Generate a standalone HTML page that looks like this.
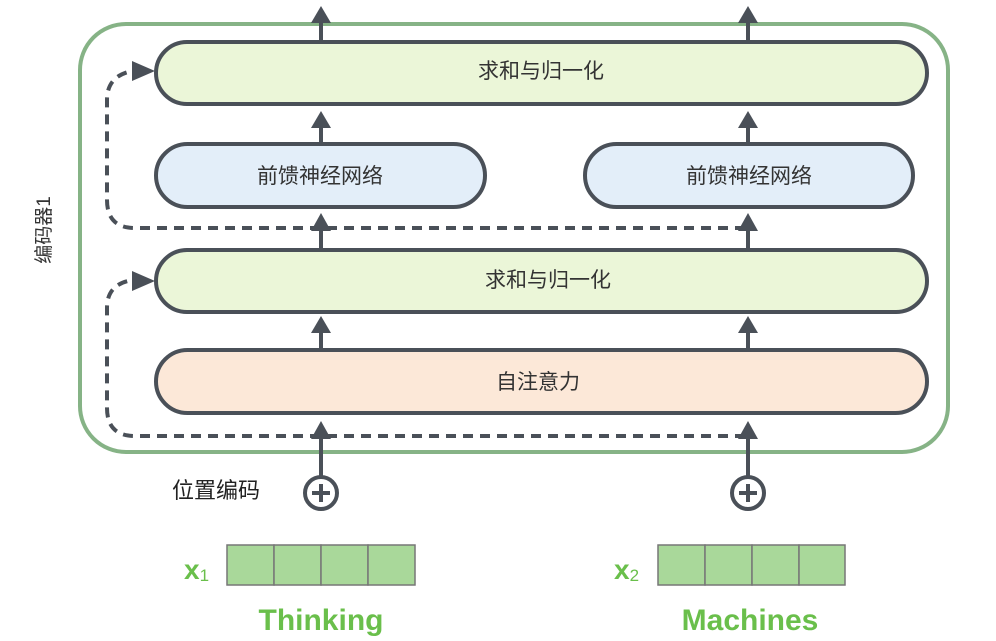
<!DOCTYPE html>
<html><head><meta charset="utf-8"><style>
html,body{margin:0;padding:0;background:#fff;}
svg{display:block;}
text{font-family:"Liberation Sans","Noto Sans CJK SC",sans-serif;}
</style></head><body>
<svg width="996" height="641" viewBox="0 0 996 641" xmlns="http://www.w3.org/2000/svg">
<defs>
<marker id="ah" markerWidth="6" markerHeight="6" refX="3" refY="3" orient="auto" markerUnits="userSpaceOnUse"></marker>
</defs>
<!-- outer encoder box -->
<rect x="80" y="24" width="868" height="428" rx="46" ry="46" fill="none" stroke="#86b386" stroke-width="4"/>
<text x="0" y="0" transform="translate(50,230) rotate(-90)" font-size="19" fill="#333" text-anchor="middle">编码器1</text>

<!-- dashed residuals -->
<g fill="none" stroke="#4a5058" stroke-width="4" stroke-dasharray="10,7">
<path d="M745 228 H135 Q107 228 107 200 V100 Q107 78 128 72"/>
<path d="M745 436 H135 Q107 436 107 408 V308 Q107 286 128 281"/>
</g>
<g fill="#4a5058">
<polygon points="155,71 132,61 132,81"/>
<polygon points="155,281 132,271 132,291"/>
</g>

<!-- boxes -->
<g stroke="#4a5058" stroke-width="4">
<rect x="156" y="42" width="771" height="62" rx="31" fill="#ebf6d8"/>
<rect x="156" y="144" width="329" height="63" rx="31.5" fill="#e3eef9"/>
<rect x="585" y="144" width="328" height="63" rx="31.5" fill="#e3eef9"/>
<rect x="156" y="250" width="771" height="62" rx="31" fill="#ebf6d8"/>
<rect x="156" y="350" width="771" height="63" rx="31.5" fill="#fce8d8"/>
</g>
<g font-size="21" fill="#333" text-anchor="middle">
<text x="541" y="78">求和与归一化</text>
<text x="320" y="183">前馈神经网络</text>
<text x="749" y="183">前馈神经网络</text>
<text x="548" y="287">求和与归一化</text>
<text x="538" y="389">自注意力</text>
</g>

<!-- solid arrows -->
<g stroke="#4a5058" stroke-width="4">
<line x1="321" y1="42" x2="321" y2="18"/><line x1="748" y1="42" x2="748" y2="18"/>
<line x1="321" y1="144" x2="321" y2="124"/><line x1="748" y1="144" x2="748" y2="124"/>
<line x1="321" y1="250" x2="321" y2="228"/><line x1="748" y1="250" x2="748" y2="228"/>
<line x1="321" y1="350" x2="321" y2="330"/><line x1="748" y1="350" x2="748" y2="330"/>
<line x1="321" y1="476" x2="321" y2="434"/><line x1="748" y1="476" x2="748" y2="434"/>
</g>
<g fill="#4a5058">
<polygon points="321,6 311,23 331,23"/><polygon points="748,6 738,23 758,23"/>
<polygon points="321,111 311,128 331,128"/><polygon points="748,111 738,128 758,128"/>
<polygon points="321,213 311,231 331,231"/><polygon points="748,213 738,231 758,231"/>
<polygon points="321,316 311,333 331,333"/><polygon points="748,316 738,333 758,333"/>
<polygon points="321,421 311,439 331,439"/><polygon points="748,421 738,439 758,439"/>
</g>

<!-- plus circles -->
<g stroke="#4a5058" stroke-width="4" fill="#fff">
<circle cx="321" cy="493" r="16"/><circle cx="748" cy="493" r="16"/>
</g>
<g stroke="#4a5058" stroke-width="4">
<line x1="312" y1="493" x2="330" y2="493"/><line x1="321" y1="484" x2="321" y2="502"/>
<line x1="739" y1="493" x2="757" y2="493"/><line x1="748" y1="484" x2="748" y2="502"/>
</g>
<text x="172" y="498" font-size="22" fill="#222">位置编码</text>

<!-- vectors -->
<g fill="#a9d89a" stroke="#777" stroke-width="1.5">
<rect x="227" y="545" width="47" height="40"/><rect x="274" y="545" width="47" height="40"/>
<rect x="321" y="545" width="47" height="40"/><rect x="368" y="545" width="47" height="40"/>
<rect x="658" y="545" width="47" height="40"/><rect x="705" y="545" width="47" height="40"/>
<rect x="752" y="545" width="47" height="40"/><rect x="799" y="545" width="46" height="40"/>
</g>
<g fill="#6abf4b" font-weight="bold">
<text x="184" y="579" font-size="28">x<tspan font-size="17" font-weight="normal" dy="2">1</tspan></text>
<text x="614" y="579" font-size="28">x<tspan font-size="17" font-weight="normal" dy="2">2</tspan></text>
<text x="321" y="630" font-size="30" text-anchor="middle">Thinking</text>
<text x="750" y="630" font-size="30" text-anchor="middle">Machines</text>
</g>
</svg>
</body></html>
